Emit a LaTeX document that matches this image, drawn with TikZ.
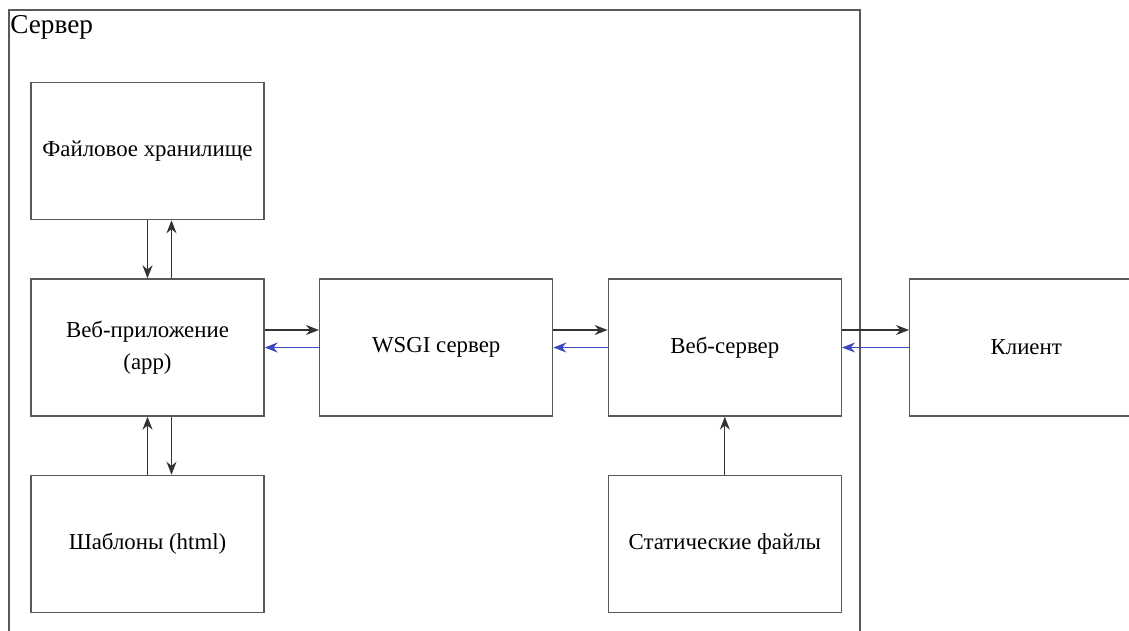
\documentclass[tikz,border=0pt]{standalone}
\usepackage{fontspec}
\setmainfont{Liberation Serif}
\usetikzlibrary{arrows.meta, positioning}
\definecolor{backblue}{RGB}{62,72,190}
\tikzset{
  box/.style={draw=black!65, line width=0.8pt, fill=white, minimum width=4.66cm, minimum height=2.74cm, align=center, font=\fontsize{13}{18.5}\selectfont},
  frame/.style={draw=black!65, line width=0.8pt},
  arr/.style={-{Stealth[length=2.6mm, width=2mm]}, draw=black!80, line width=0.6pt},
  barr/.style={arr, draw=backblue},
}
\begin{document}
\begin{tikzpicture}[node distance=1.16cm and 1.085cm]
    \useasboundingbox (0,0) rectangle (22.58,-12.6);
    \draw[frame] (0.18,-13) |- (17.2,-0.2) -- (17.2,-13);
    \node[anchor=north west, inner sep=0, font=\fontsize{15.5}{18}\selectfont] (srv) at (0.2,-0.3) {Сервер};
    \node[box] (app) at (2.95,-6.95) {Веб-приложение\\(app)};
    \node[box, above=of app] (files) {Файловое хранилище};
    \node[box, below=of app] (tmpl) {Шаблоны (html)};
    \node[box, right=of app] (wsgi) {WSGI сервер};
    \node[box, right=of wsgi] (web) {Веб-сервер};
    \node[box, below=of web] (static) {Статические файлы};
    \node[box, right=1.34cm of web] (client) {Клиент};
    \draw[arr] (files.south) -- (app.north);
    \draw[arr] ([xshift=0.48cm]app.north) -- ([xshift=0.48cm]files.south);
    \draw[arr] (tmpl.north) -- (app.south);
    \draw[arr] ([xshift=0.48cm]app.south) -- ([xshift=0.48cm]tmpl.north);
    \draw[arr] ([yshift=0.35cm]app.east) -- ([yshift=0.35cm]wsgi.west);
    \draw[barr] (wsgi.west) -- (app.east);
    \draw[arr] ([yshift=0.35cm]wsgi.east) -- ([yshift=0.35cm]web.west);
    \draw[barr] (web.west) -- (wsgi.east);
    \draw[arr] ([yshift=0.35cm]web.east) -- ([yshift=0.35cm]client.west);
    \draw[barr] (client.west) -- (web.east);
    \draw[arr] (static.north) -- (web.south);
\end{tikzpicture}
\end{document}
